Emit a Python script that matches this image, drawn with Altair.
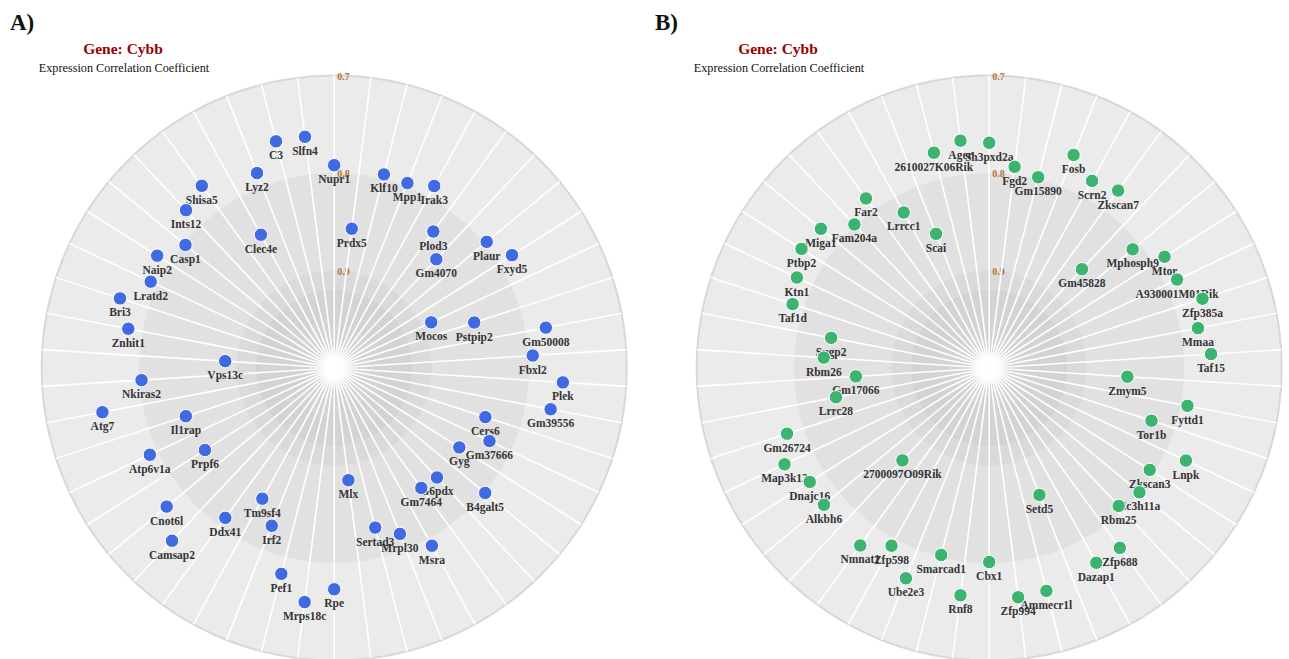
import math

import altair as alt
import pandas as pd

# ---- data: genes in clockwise order from 12 o'clock, with correlation to Cybb ----
GENES_A = [
    "Nupr1", "Prdx5", "Klf10", "Mpp1", "Irak3", "Plod3", "Gm4070", "Plaur", "Fxyd5", "Mocos",
    "Pstpip2", "Gm50008", "Fbxl2", "Plek", "Gm39556", "Cers6", "Gm37666", "Gyg", "B4galt5", "G6pdx",
    "Gm7464", "Msra", "Mrpl30", "Sertad3", "Mlx", "Rpe", "Mrps18c", "Pef1", "Irf2", "Tm9sf4",
    "Ddx41", "Camsap2", "Cnot6l", "Prpf6", "Atp6v1a", "Il1rap", "Atg7", "Nkiras2", "Vps13c", "Znhit1",
    "Bri3", "Lratd2", "Naip2", "Casp1", "Ints12", "Shisa5", "Clec4e", "Lyz2", "C3", "Slfn4",
]
CORR_A = [
    0.792, 0.856, 0.795, 0.796, 0.787, 0.827, 0.847, 0.797, 0.784, 0.890,
    0.849, 0.779, 0.796, 0.765, 0.774, 0.837, 0.824, 0.848, 0.799, 0.846,
    0.848, 0.792, 0.817, 0.831, 0.884, 0.773, 0.758, 0.782, 0.826, 0.847,
    0.810, 0.757, 0.777, 0.843, 0.791, 0.840, 0.758, 0.802, 0.888, 0.785,
    0.769, 0.792, 0.785, 0.802, 0.778, 0.769, 0.844, 0.785, 0.760, 0.761,
]

GENES_B = [
    "Sh3pxd2a", "Fgd2", "Gm15890", "Fosb", "Scrn2", "Zkscan7", "Gm45828", "Mphosph9", "Mtor", "A930001M01Rik",
    "Zfp385a", "Mmaa", "Taf15", "Zmym5", "Fyttd1", "Tor1b", "Lnpk", "Zkscan3", "Zc3h11a", "Rbm25",
    "Zfp688", "Dazap1", "Setd5", "Ammecr1l", "Zfp994", "Cbx1", "Rnf8", "Smarcad1", "Ube2e3", "Zfp598",
    "Nmnat1", "2700097O09Rik", "Alkbh6", "Dnajc16", "Map3k12", "Gm26724", "Lrrc28", "Gm17066", "Rbm26", "Sugp2",
    "Taf1d", "Ktn1", "Ptbp2", "Miga1", "Fam204a", "Far2", "Lrrcc1", "Scai", "2610027K06Rik", "Ager",
]
CORR_B = [
    0.769, 0.792, 0.798, 0.765, 0.781, 0.775, 0.861, 0.809, 0.787, 0.787,
    0.770, 0.782, 0.772, 0.858, 0.793, 0.825, 0.777, 0.805, 0.800, 0.806,
    0.772, 0.772, 0.860, 0.764, 0.763, 0.801, 0.765, 0.802, 0.768, 0.792,
    0.775, 0.870, 0.780, 0.782, 0.768, 0.782, 0.840, 0.863, 0.830, 0.835,
    0.788, 0.782, 0.772, 0.776, 0.798, 0.785, 0.818, 0.852, 0.772, 0.765,
]

PANELS = ["A", "B"]
RING_LEVELS = [0.7, 0.8, 0.9, 0.92]      # background bands (outer edge of each disc)
TICK_LEVELS = [0.7, 0.8, 0.9]            # radial tick labels

# ---- styling / layout ----
R_MIN = 0.7            # correlation drawn at the outer rim
R_MAX = 1.0            # correlation drawn at the centre
SPAN = R_MAX - R_MIN
W, H = 1289, 659
R_PX = 292.5           # rim radius in pixels
CX_A, CX_B, CY = 334.2, 989.2, 368   # polar centres of the two panels
B_SHIFT = (CX_B - CX_A) / R_PX       # panel B offset in radius units
SERIF = "Liberation Serif"
RING_FILLS = {0.7: "#ebebeb", 0.8: "#e1e1e1", 0.9: "#dadada", 0.92: "#d3d3d3"}
DOT_COLORS = {"A": "#4169e1", "B": "#3cb371"}
TICK_COLOR = "#b8733a"
LABEL_COLOR = "#353535"

xs = alt.Scale(domain=[-CX_A / R_PX, (W - CX_A) / R_PX], nice=False, zero=False)
ys = alt.Scale(domain=[-(H - CY) / R_PX, CY / R_PX], nice=False, zero=False)
# radius in the same units as x/y: 1 unit = the rim (correlation 0.7)
rs = alt.Scale(type="linear", domain=[0, 1], range=[0, R_PX], zero=True, nice=False)


def X(f):
    return alt.X(f, type="quantitative", scale=xs, axis=None)


def Y(f):
    return alt.Y(f, type="quantitative", scale=ys, axis=None)


def lookup_expr(field, mapping):
    expr = "'#000000'"
    for k, v in mapping.items():
        key = f"'{k}'" if isinstance(k, str) else repr(k)
        expr = f"datum.{field} == {key} ? '{v}' : ({expr})"
    return expr


centre = f"datum.panel == 'B' ? {B_SHIFT} : 0"
to_radius = f"({R_MAX} - datum.level) / {SPAN}"

genes = pd.DataFrame({
    "panel": ["A"] * len(GENES_A) + ["B"] * len(GENES_B),
    "gene": GENES_A + GENES_B,
    "corr": CORR_A + CORR_B,
    "slot": list(range(len(GENES_A))) + list(range(len(GENES_B))),
})
n_spokes = len(GENES_A)

polar = alt.Chart(genes).transform_calculate(
    cx=centre,
    ang=f"2 * PI * datum.slot / {n_spokes}",
    rad=f"({R_MAX} - datum.corr) / {SPAN}",
    px="datum.cx + datum.rad * sin(datum.ang)",
    py="datum.rad * cos(datum.ang)",
    oy="0",
    ex="datum.cx + sin(datum.ang)",
    ey="cos(datum.ang)",
    dot=lookup_expr("panel", DOT_COLORS),
)

ring_df = pd.DataFrame([{"panel": p, "level": lv} for p in PANELS for lv in RING_LEVELS])
rings = alt.Chart(ring_df).transform_calculate(
    cx=centre, oy="0", rad=to_radius, fill=lookup_expr("level", RING_FILLS)
).mark_arc(theta=0, theta2=2 * math.pi).encode(
    x=X("cx"),
    y=Y("oy"),
    radius=alt.Radius("rad:Q", scale=rs, stack=False),
    color=alt.Color("fill:N", scale=None),
)

rim = alt.Chart(pd.DataFrame({"panel": PANELS, "level": [R_MIN, R_MIN]})).transform_calculate(
    cx=centre, oy="0", rad=to_radius
).mark_arc(theta=0, theta2=2 * math.pi, filled=False, stroke="#d8d8d8", strokeWidth=2).encode(
    x=X("cx"),
    y=Y("oy"),
    radius=alt.Radius("rad:Q", scale=rs, stack=False),
)

tick_df = pd.DataFrame([{"panel": p, "level": lv} for p in PANELS for lv in TICK_LEVELS])
ticks = alt.Chart(tick_df).transform_calculate(
    cx=centre, rad=to_radius, lab="format(datum.level, '.1f')"
).mark_text(
    align="left", baseline="middle", dx=3, dy=1, font=SERIF, fontSize=10,
    fontWeight="bold", color=TICK_COLOR,
).encode(x=X("cx"), y=Y("rad"), text="lab:N")

spokes = polar.mark_rule(color="white", strokeWidth=1.6).encode(
    x=X("cx"), y=Y("oy"), x2="ex:Q", y2="ey:Q"
)

labels = polar.mark_text(
    baseline="middle", dy=15, font=SERIF, fontSize=11.5, fontWeight="bold", color=LABEL_COLOR
).encode(x=X("px"), y=Y("py"), text="gene:N")

dots = polar.mark_circle(size=180, opacity=1, stroke="white", strokeWidth=1).encode(
    x=X("px"),
    y=Y("py"),
    color=alt.Color("dot:N", scale=None),
)


def caption(text, x, y, **style):
    return alt.Chart(pd.DataFrame({"t": [text]})).mark_text(
        baseline="middle", font=SERIF, **style
    ).encode(x=alt.value(x), y=alt.value(y), text="t:N")


heads = [
    caption("A)", 10, 23, align="left", fontSize=23, fontWeight="bold", color="#111111"),
    caption("B)", 655, 23, align="left", fontSize=23, fontWeight="bold", color="#111111"),
    caption("Gene: Cybb", 123, 49, align="center", fontSize=15.5, fontWeight="bold", color="#990000"),
    caption("Gene: Cybb", 778, 49, align="center", fontSize=15.5, fontWeight="bold", color="#990000"),
    caption("Expression Correlation Coefficient", 124, 68, align="center", fontSize=12.2, color="#111111"),
    caption("Expression Correlation Coefficient", 779, 68, align="center", fontSize=12.2, color="#111111"),
]

chart = alt.layer(rings, rim, ticks, spokes, labels, dots, *heads).properties(
    width=W,
    height=H,
    padding=0,
    autosize=alt.AutoSizeParams(type="none"),
    background="white",
).configure_view(stroke="transparent")

chart.save("out.html", embed_options={"renderer": "svg", "actions": False})
